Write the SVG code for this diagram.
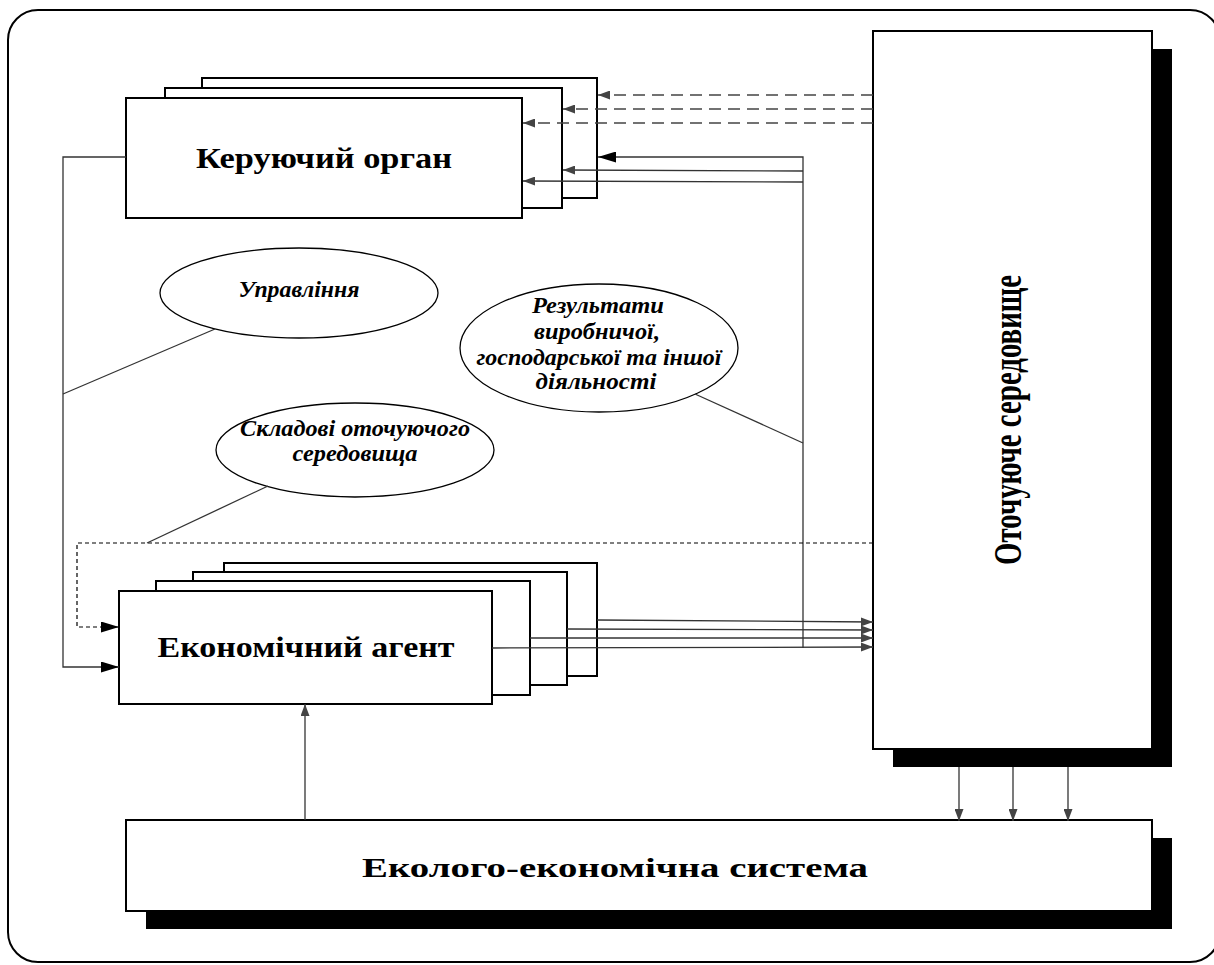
<svg xmlns="http://www.w3.org/2000/svg" width="1214" height="965" viewBox="0 0 1214 965">
<style>
.box{fill:#fff;stroke:#000;stroke-width:2}
.shadow{fill:#000;stroke:none}
.ell{fill:#fff;stroke:#000;stroke-width:1.3}
.ln{fill:none;stroke:#333;stroke-width:1.3}
.dash{fill:none;stroke:#444;stroke-width:1.5;stroke-dasharray:12 7}
.dot{fill:none;stroke:#000;stroke-width:1.2;stroke-dasharray:4 3}
.title{font-family:"Liberation Serif","Times New Roman",serif;font-weight:bold;fill:#000}
.lbl{font-family:"Liberation Serif","Times New Roman",serif;font-weight:bold;font-style:italic;font-size:23px;fill:#000;text-anchor:middle}
</style>
<defs>
<marker id="sm" markerUnits="userSpaceOnUse" markerWidth="12" markerHeight="9" refX="12" refY="4.5" orient="auto">
<path d="M0,0 L12,4.5 L0,9 z" fill="#444"/>
</marker>
<marker id="bg" markerUnits="userSpaceOnUse" markerWidth="18" markerHeight="11" refX="18" refY="5.5" orient="auto">
<path d="M0,0 L18,5.5 L0,11 z" fill="#000"/>
</marker>
</defs>

<rect x="8" y="10" width="1212" height="952" rx="30" ry="30" fill="none" stroke="#000" stroke-width="2"/>

<g id="env">
<rect class="shadow" x="893" y="49" width="279" height="718"/>
<rect class="box" x="873" y="31" width="279" height="718" stroke-width="1.5"/>
<text class="title" transform="translate(1021,420) rotate(-90)" font-size="39" text-anchor="middle" textLength="290" lengthAdjust="spacingAndGlyphs">Оточуюче середовище</text>
</g>

<g id="eco-system">
<rect class="shadow" x="146" y="838" width="1026" height="91"/>
<rect class="box" x="126" y="820" width="1026" height="91" stroke-width="1.5"/>
<text class="title" x="615" y="877" font-size="27" text-anchor="middle" textLength="506" lengthAdjust="spacingAndGlyphs">Еколого-економічна система</text>
</g>

<g id="control-body">
<rect class="box" x="202" y="78" width="395" height="120"/>
<rect class="box" x="165" y="88" width="397" height="120"/>
<rect class="box" x="126" y="98" width="396" height="120"/>
<text class="title" x="324" y="168" font-size="30" text-anchor="middle" textLength="256" lengthAdjust="spacingAndGlyphs">Керуючий орган</text>
</g>

<g id="economic-agent">
<rect class="box" x="224" y="563" width="373" height="113"/>
<rect class="box" x="193" y="572" width="374" height="113"/>
<rect class="box" x="156" y="581" width="374" height="114"/>
<rect class="box" x="119" y="591" width="373" height="113"/>
<text class="title" x="306" y="657" font-size="30" text-anchor="middle" textLength="297" lengthAdjust="spacingAndGlyphs">Економічний агент</text>
</g>

<g id="label-management">
<ellipse class="ell" cx="299" cy="293" rx="139" ry="45"/>
<text class="lbl" x="299" y="297" textLength="121" lengthAdjust="spacingAndGlyphs">Управління</text>
</g>

<g id="label-results">
<ellipse class="ell" cx="599" cy="348" rx="139" ry="64"/>
<text class="lbl" x="598" y="313" textLength="132" lengthAdjust="spacingAndGlyphs">Результати</text>
<text class="lbl" x="597" y="339" textLength="126" lengthAdjust="spacingAndGlyphs">виробничої,</text>
<text class="lbl" x="599" y="365" textLength="245" lengthAdjust="spacingAndGlyphs">господарської та іншої</text>
<text class="lbl" x="596" y="389" textLength="121" lengthAdjust="spacingAndGlyphs">діяльності</text>
</g>

<g id="label-components">
<ellipse class="ell" cx="355" cy="450" rx="139" ry="47"/>
<text class="lbl" x="355" y="436" textLength="230" lengthAdjust="spacingAndGlyphs">Складові оточуючого</text>
<text class="lbl" x="355" y="461" textLength="125" lengthAdjust="spacingAndGlyphs">середовища</text>
</g>

<g id="connectors">
<line class="dash" x1="873" y1="95" x2="598" y2="95" marker-end="url(#sm)"/>
<line class="dash" x1="873" y1="109" x2="563" y2="109" marker-end="url(#sm)"/>
<line class="dash" x1="873" y1="123" x2="523" y2="123" marker-end="url(#sm)"/>
<polyline class="ln" points="803,648 803,157 598,157" marker-end="url(#bg)" stroke="#000"/>
<line class="ln" x1="803" y1="171" x2="563" y2="170" marker-end="url(#sm)"/>
<line class="ln" x1="803" y1="182" x2="523" y2="181" marker-end="url(#sm)"/>
<line class="ln" x1="597" y1="620" x2="873" y2="622" marker-end="url(#sm)"/>
<line class="ln" x1="567" y1="629" x2="873" y2="630" marker-end="url(#sm)"/>
<line class="ln" x1="530" y1="638" x2="873" y2="638" marker-end="url(#sm)"/>
<line class="ln" x1="492" y1="648" x2="873" y2="647" marker-end="url(#sm)"/>
<polyline class="ln" points="126,157 63,157 63,667 119,667" marker-end="url(#bg)" stroke="#000"/>
<polyline class="dot" points="873,543 77,543 77,627 119,627" marker-end="url(#bg)"/>
<line class="ln" x1="305" y1="820" x2="305" y2="704" marker-end="url(#sm)"/>
<line class="ln" x1="959" y1="767" x2="959" y2="821" marker-end="url(#sm)"/>
<line class="ln" x1="1013" y1="767" x2="1013" y2="821" marker-end="url(#sm)"/>
<line class="ln" x1="1068" y1="767" x2="1068" y2="821" marker-end="url(#sm)"/>
<line class="ln" x1="215" y1="329" x2="63" y2="394" stroke="#000"/>
<line class="ln" x1="695" y1="394" x2="803" y2="443" stroke="#000"/>
<line class="ln" x1="268" y1="486" x2="147" y2="543" stroke="#000"/>
</g>
</svg>
